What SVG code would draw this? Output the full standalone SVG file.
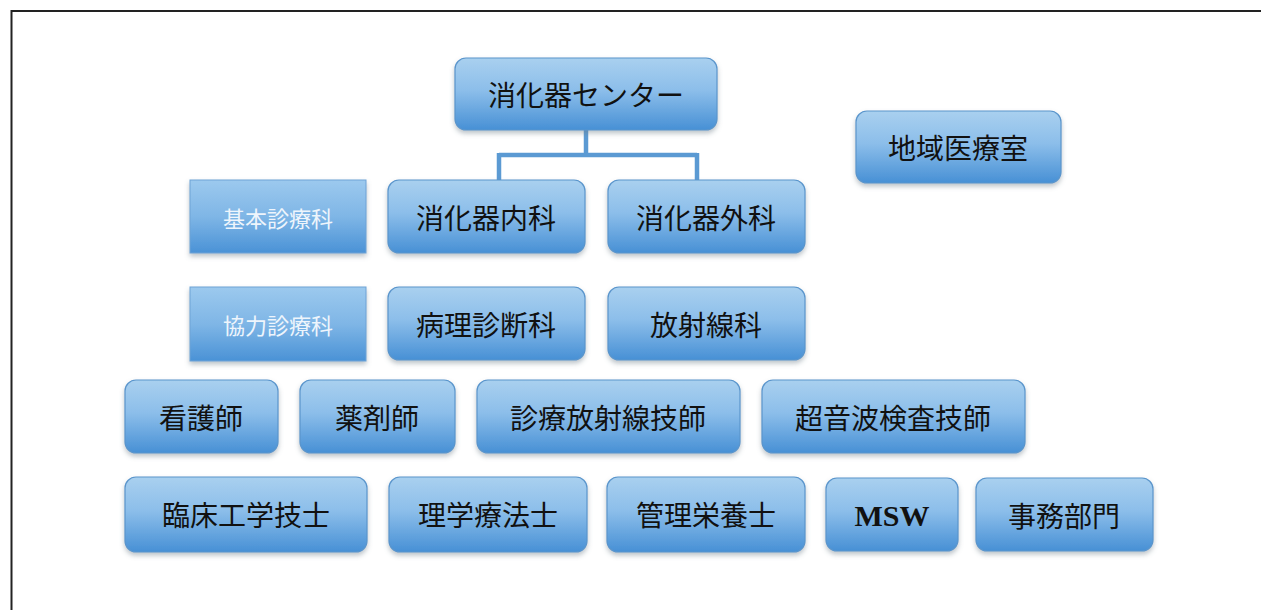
<svg xmlns="http://www.w3.org/2000/svg" width="1261" height="610" viewBox="0 0 1261 610">
<defs>
<linearGradient id="g" x1="0" y1="0" x2="0" y2="1">
<stop offset="0" stop-color="#a9d0ef"/>
<stop offset="0.45" stop-color="#8cbeea"/>
<stop offset="1" stop-color="#4790d5"/>
</linearGradient>
<linearGradient id="g2" x1="0" y1="0" x2="0" y2="1">
<stop offset="0" stop-color="#9cc9ee"/>
<stop offset="0.5" stop-color="#7fb6e6"/>
<stop offset="1" stop-color="#4a92d6"/>
</linearGradient>
<filter id="sh" x="-10%" y="-10%" width="120%" height="140%">
<feDropShadow dx="0" dy="3" stdDeviation="2.5" flood-color="#6b7a88" flood-opacity="0.45"/>
</filter>
</defs>
<style>
.n{fill:url(#g);stroke:#5a95cc;stroke-width:1.2;filter:url(#sh)}
.s{fill:url(#g2);stroke:#6ea3d6;stroke-width:1;filter:url(#sh)}
.t{font-family:"Noto Sans CJK JP","Liberation Sans",sans-serif;font-size:28px;fill:#111;text-anchor:middle;dominant-baseline:central}
.w{font-family:"Noto Sans CJK JP","Liberation Serif",serif;font-size:22px;fill:#eef5fc;text-anchor:middle;dominant-baseline:central}
.m{font-family:"Liberation Serif",serif;font-weight:bold;font-size:30px;fill:#111;text-anchor:middle;dominant-baseline:central}
.c{fill:none;stroke:#5b9ad3;stroke-width:4.5}
</style>
<rect width="1261" height="610" fill="#ffffff"/>
<path d="M11.5,610 V11 H1261" fill="none" stroke="#222" stroke-width="2"/>
<g id="connectors">
<path class="c" d="M586,130 V155 M499,155 H697 M499,153 V181 M697,153 V181"/>
</g>
<g id="n-center"><rect class="n" x="455" y="58" width="262" height="72" rx="11"/><text class="t" x="586" y="94">消化器センター</text></g>
<g id="n-chiiki"><rect class="n" x="856" y="111" width="205" height="72" rx="11"/><text class="t" x="958" y="147">地域医療室</text></g>
<g id="n-kihon"><rect class="s" x="190" y="180" width="176" height="73"/><text class="w" x="278" y="217">基本診療科</text></g>
<g id="n-naika"><rect class="n" x="388" y="180" width="197" height="73" rx="11"/><text class="t" x="486" y="217">消化器内科</text></g>
<g id="n-geka"><rect class="n" x="608" y="180" width="197" height="73" rx="11"/><text class="t" x="706" y="217">消化器外科</text></g>
<g id="n-kyoryoku"><rect class="s" x="190" y="287" width="176" height="74"/><text class="w" x="278" y="324">協力診療科</text></g>
<g id="n-byori"><rect class="n" x="388" y="287" width="197" height="73" rx="11"/><text class="t" x="486" y="324">病理診断科</text></g>
<g id="n-hoshasen"><rect class="n" x="608" y="287" width="197" height="73" rx="11"/><text class="t" x="706" y="324">放射線科</text></g>
<g id="n-kango"><rect class="n" x="125" y="380" width="153" height="73" rx="11"/><text class="t" x="201" y="417">看護師</text></g>
<g id="n-yakuzai"><rect class="n" x="300" y="380" width="155" height="73" rx="11"/><text class="t" x="377" y="417">薬剤師</text></g>
<g id="n-shinryo"><rect class="n" x="477" y="380" width="263" height="73" rx="11"/><text class="t" x="608" y="417">診療放射線技師</text></g>
<g id="n-choonpa"><rect class="n" x="762" y="380" width="263" height="73" rx="11"/><text class="t" x="893" y="417">超音波検査技師</text></g>
<g id="n-rinsho"><rect class="n" x="125" y="477" width="242" height="75" rx="11"/><text class="t" x="246" y="514">臨床工学技士</text></g>
<g id="n-rigaku"><rect class="n" x="389" y="477" width="198" height="75" rx="11"/><text class="t" x="488" y="514">理学療法士</text></g>
<g id="n-kanri"><rect class="n" x="607" y="477" width="198" height="75" rx="11"/><text class="t" x="706" y="514">管理栄養士</text></g>
<g id="n-msw"><rect class="n" x="826" y="478" width="132" height="73" rx="11"/><text class="m" x="892" y="515">MSW</text></g>
<g id="n-jimu"><rect class="n" x="976" y="478" width="177" height="73" rx="11"/><text class="t" x="1064" y="515">事務部門</text></g>
</svg>
